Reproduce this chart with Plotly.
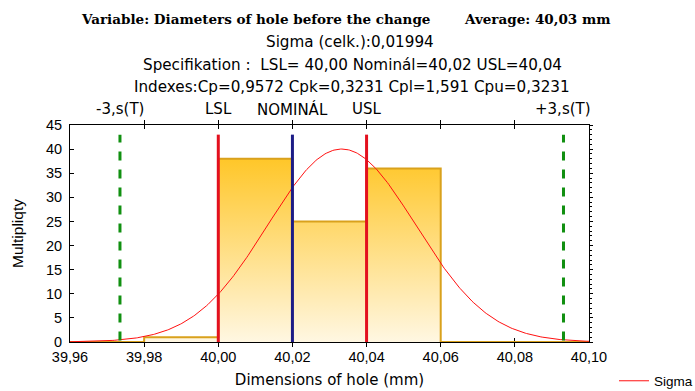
import numpy as np
import plotly.graph_objects as go

# ---- data ----
bin_edges = [39.96, 39.98, 40.00, 40.02, 40.04, 40.06, 40.08, 40.10]
bin_counts = [0, 1, 38, 25, 36, 0, 0]
fit_mean = 40.0333
fit_sigma = 0.01994
n_total = 100
spec_names = ["LSL", "NOMINÁL", "USL"]
spec_values = [40.00, 40.02, 40.04]
spec_colors = ["#e3101e", "#1c1c86", "#e3101e"]
sigma_names = ["-3,s(T)", "+3,s(T)"]
line_top = 43

title_lines = [
    "Sigma (celk.):0,01994",
    "Specifikation :  LSL= 40,00 Nominál=40,02 USL=40,04",
    "Indexes:Cp=0,9572 Cpk=0,3231 Cpl=1,591 Cpu=0,3231",
]

# ---- geometry helpers (pixel -> paper) ----
W, H = 695, 391
L, R, T, B = 70, 589, 125, 342
def px(x):
    return (x - L) / (R - L)
def py(y):
    return (B - y) / (B - T)

fig = go.Figure()

# histogram as stepped filled outline with vertical gradient
step_x = bin_edges
step_y = bin_counts + [bin_counts[-1]]
fig.add_trace(go.Scatter(
    x=step_x, y=step_y, mode="lines", line_shape="hv",
    line=dict(color="#d9a11c", width=2),
    fill="tozeroy",
    fillgradient=dict(type="vertical", start=0, stop=40,
                      colorscale=[[0, "#fff7e2"], [1, "#ffc41f"]]),
    showlegend=False, hoverinfo="skip"))
# light bar sides
for e, c0, c1 in zip(bin_edges[1:-1], bin_counts[:-1], bin_counts[1:]):
    h = min(c0, c1)
    if h > 0:
        fig.add_trace(go.Scatter(x=[e, e], y=[0, h], mode="lines",
                                 line=dict(color="#e8c25a", width=1),
                                 showlegend=False, hoverinfo="skip"))

# fitted normal curve
xs = np.linspace(bin_edges[0], bin_edges[-1], 400)
bw = bin_edges[1] - bin_edges[0]
ys = n_total * bw / (fit_sigma * np.sqrt(2 * np.pi)) * np.exp(-0.5 * ((xs - fit_mean) / fit_sigma) ** 2)
fig.add_trace(go.Scatter(x=xs, y=ys, mode="lines", name="Sigma",
                         line=dict(color="#ff1010", width=1), showlegend=True))

# +-3 sigma lines
sigma_pos = [fit_mean - 3 * fit_sigma, fit_mean + 3 * fit_sigma]
for xv in sigma_pos:
    fig.add_trace(go.Scatter(x=[xv, xv], y=[0.3, line_top], mode="lines",
                             line=dict(color="#119011", width=3, dash="dash"),
                             showlegend=False, hoverinfo="skip"))
# spec lines
for xv, col in zip(spec_values, spec_colors):
    fig.add_trace(go.Scatter(x=[xv, xv], y=[0, line_top], mode="lines",
                             line=dict(color=col, width=3),
                             showlegend=False, hoverinfo="skip"))

# secondary y-axis on the right for the minor tick marks
fig.add_trace(go.Scatter(x=[bin_edges[0]], y=[0], yaxis="y2", mode="markers",
                         marker=dict(opacity=0), showlegend=False, hoverinfo="skip"))

ann = []
font_sans = "Arial, Liberation Sans, sans-serif"
font_wide = "DejaVu Sans, sans-serif"
font_serif = "DejaVu Serif, serif"
ann.append(dict(x=px(432), y=py(19), xref="paper", yref="paper", xanchor="right", yanchor="middle",
                text="<b>Variable: Diameters of hole before the change</b>", showarrow=False,
                font=dict(family=font_serif, size=13.5, color="black")))
ann.append(dict(x=px(462), y=py(19), xref="paper", yref="paper", xanchor="left", yanchor="middle",
                text="<b>Average: 40,03 mm</b>", showarrow=False,
                font=dict(family=font_serif, size=13.5, color="black")))
for txt, yy, xc in zip(title_lines, [42, 65, 87], [350, 352, 352]):
    ann.append(dict(x=px(xc), y=py(yy), xref="paper", yref="paper", xanchor="center", yanchor="middle",
                    text=txt, showarrow=False, font=dict(family=font_wide, size=15.2, color="black")))
for nm, xv in zip(spec_names, spec_values):
    ann.append(dict(x=xv, y=py(109), xref="x", yref="paper", xanchor="center", yanchor="middle",
                    text=nm, showarrow=False, font=dict(family=font_wide, size=15, color="black")))
for nm, xv in zip(sigma_names, sigma_pos):
    ann.append(dict(x=xv, y=py(109), xref="x", yref="paper", xanchor="center", yanchor="middle",
                    text=nm, showarrow=False, font=dict(family=font_wide, size=15, color="black")))

fig.update_layout(
    width=W, height=H,
    margin=dict(l=L, r=W - R, t=T, b=H - B, autoexpand=False),
    paper_bgcolor="white", plot_bgcolor="white",
    separators=",.",
    font=dict(family=font_sans, size=14, color="black"),
    annotations=ann,
    xaxis=dict(range=[bin_edges[0], bin_edges[-1]], dtick=0.02, tick0=39.96, tickformat=".2f",
               showgrid=False, zeroline=False, showline=True, linecolor="black", linewidth=1,
               mirror="allticks", ticks="inside", ticklen=4, tickcolor="black",
               tickfont=dict(size=14.5), automargin=False, layer="below traces",
               ticklabelstandoff=2,
               title=dict(text="Dimensions of hole (mm)", font=dict(family=font_wide, size=15), standoff=10)),
    yaxis=dict(range=[0, 45], dtick=5, showgrid=False, zeroline=False, showline=True,
               linecolor="black", linewidth=1, mirror=True, ticks="inside", ticklen=4,
               tickcolor="black", tickfont=dict(size=14.5), automargin=False, ticklabelstandoff=4,
               title=dict(text="Multipliqty", font=dict(family=font_sans, size=15.5), standoff=18)),
    yaxis2=dict(range=[0, 45], overlaying="y", side="right", showticklabels=False, showgrid=False,
                zeroline=False, showline=False, ticks="outside", dtick=5, ticklen=3, tickcolor="black",
                automargin=False,
                minor=dict(ticks="outside", dtick=1, ticklen=2, tickcolor="black")),
    legend=dict(xref="container", yref="container", x=614 / W, y=1 - 381 / H,
                xanchor="left", yanchor="middle", bgcolor="rgba(0,0,0,0)",
                font=dict(family=font_sans, size=13.5), itemwidth=30),
)

fig.write_html("out.html", post_script="document.body.style.margin='0';",
               config={"displayModeBar": False})
